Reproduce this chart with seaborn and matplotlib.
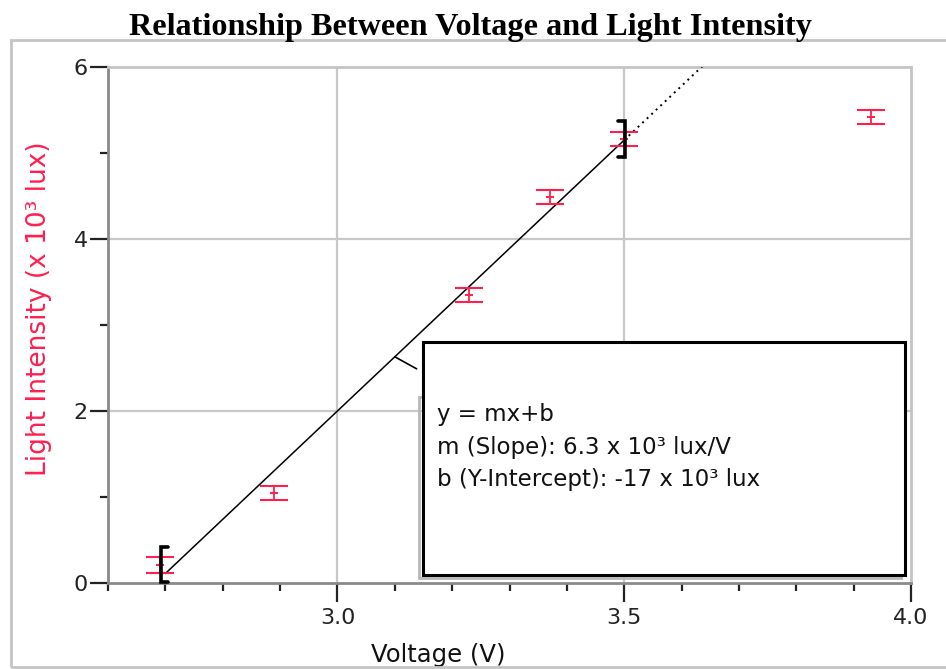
import matplotlib
matplotlib.use("Agg")
import matplotlib.pyplot as plt
import seaborn as sns
import numpy as np
import pandas as pd
from matplotlib.patches import Rectangle
from matplotlib.ticker import MultipleLocator, FixedLocator

# ---- data ----
voltage = [2.69, 2.89, 3.23, 3.37, 3.50, 3.93]
intensity = [0.21, 1.05, 3.35, 4.49, 5.16, 5.42]
uncertainty = [0.09, 0.08, 0.08, 0.08, 0.08, 0.08]

fit_slope = 6.3
fit_intercept = -16.9
fit_range = [2.7, 3.5]

x_major = [3.0, 3.5, 4.0]
x_major_labels = ["3.0", "3.5", "4.0"]
y_major = [0, 2, 4, 6]
y_major_labels = ["0", "2", "4", "6"]

title = "Relationship Between Voltage and Light Intensity"
xlabel = "Voltage (V)"
ylabel = "Light Intensity (x 10³ lux)"
box_lines = ["y = mx+b",
             "m (Slope): 6.3 x 10³ lux/V",
             "b (Y-Intercept): -17 x 10³ lux"]

RED = "#ff1f4f"

sns.set_theme(style="white")
plt.rcParams['font.family'] = ['DejaVu Sans']

fig = plt.figure(figsize=(9.46, 6.69), dpi=100)
ax = fig.add_axes([0.1142, 0.1286, 0.8488, 0.7713])

# outer window frame
fig.patches.append(Rectangle((0.0116, 0.003), 1.0, 0.937, transform=fig.transFigure,
                             fill=False, edgecolor="#c4c4c4", linewidth=2, zorder=0))

ax.set_xlim(2.6, 4.0)
ax.set_ylim(0, 6)

# grid
for gx in [3.0, 3.5]:
    ax.axvline(gx, color="#c8c8c8", lw=1.6, zorder=0)
for gy in [2, 4]:
    ax.axhline(gy, color="#c8c8c8", lw=1.6, zorder=0)

# fit line: solid within fit range, dotted extrapolation
df_fit = pd.DataFrame({"x": fit_range,
                       "y": [fit_slope * v + fit_intercept for v in fit_range]})
sns.lineplot(data=df_fit, x="x", y="y", color="black", lw=1.1, ax=ax, zorder=3)
ext_x = [fit_range[1], 4.0]
df_ext = pd.DataFrame({"x": ext_x, "y": [fit_slope * v + fit_intercept for v in ext_x]})
sns.lineplot(data=df_ext, x="x", y="y", color="black", lw=1.4, ls=(0, (1, 2.2)), ax=ax, zorder=3)

# data with error bars
ax.errorbar(voltage, intensity, yerr=uncertainty, fmt='none', ecolor=RED,
            elinewidth=1.3, capsize=10, capthick=1.5, zorder=4)
df_pts = pd.DataFrame({"v": voltage, "i": intensity})
sns.scatterplot(data=df_pts, x="v", y="i", marker="_", s=30, color=RED,
                linewidth=1.4, ax=ax, zorder=5)

# fit range brackets
y_lo = fit_slope * fit_range[0] + fit_intercept
y_hi = fit_slope * fit_range[1] + fit_intercept
bx = fit_range[0] - 0.007
ax.plot([bx + 0.012, bx, bx, bx + 0.012], [y_lo + 0.31, y_lo + 0.31, y_lo - 0.10, y_lo - 0.10],
        color="black", lw=2.6, solid_joinstyle="miter", zorder=6, clip_on=False)
bx2 = fit_range[1] + 0.002
ax.plot([bx2 - 0.012, bx2, bx2, bx2 - 0.012], [y_hi + 0.22, y_hi + 0.22, y_hi - 0.20, y_hi - 0.20],
        color="black", lw=2.6, solid_joinstyle="miter", zorder=6)

# annotation box
ax.add_patch(Rectangle((0.387, 0.010), 0.600, 0.35, transform=ax.transAxes,
                       facecolor="none", edgecolor="#b8b8b8", lw=2, zorder=6))
ax.add_patch(Rectangle((0.392, 0.0155), 0.6005, 0.4515, transform=ax.transAxes,
                       facecolor="white", edgecolor="black", lw=2.2, zorder=7))
for i, line in enumerate(box_lines):
    ax.text(0.410, 0.326 - i * 0.063, line, transform=ax.transAxes, fontsize=16.5,
            ha="left", va="center", color="#111111", zorder=8)
# leader line from box to fit line
lx = 3.1
ax.annotate("", xy=(lx, fit_slope * lx + fit_intercept), xytext=(3.138, 2.49),
            arrowprops=dict(arrowstyle="-", color="black", lw=1.2, shrinkA=0, shrinkB=0),
            zorder=8)

# spines
for s in ["left", "bottom"]:
    ax.spines[s].set_color("#8a8a8a")
    ax.spines[s].set_linewidth(2)
for s in ["top", "right"]:
    ax.spines[s].set_color("#c4c4c4")
    ax.spines[s].set_linewidth(2)

# ticks
ax.xaxis.set_major_locator(FixedLocator(x_major))
ax.set_xticklabels(x_major_labels)
ax.xaxis.set_minor_locator(MultipleLocator(0.1))
ax.yaxis.set_major_locator(FixedLocator(y_major))
ax.set_yticklabels(y_major_labels)
ax.yaxis.set_minor_locator(MultipleLocator(1))
ax.tick_params(axis="x", which="major", direction="out", length=14, width=1.6,
               color="#222222", labelsize=16, pad=4, labelcolor="#222222")
ax.tick_params(axis="x", which="minor", direction="out", length=6, width=1.6, color="#222222")
ax.tick_params(axis="y", which="major", direction="out", length=13, width=1.6,
               color="#222222", labelsize=16, pad=1.5, labelcolor="#222222")
ax.tick_params(axis="y", which="minor", direction="out", length=6, width=1.6, color="#222222")
ax.tick_params(bottom=True, left=True, which="both")

ax.set_xlabel(xlabel, fontsize=17.5, color="#111111")
ax.xaxis.set_label_coords(0.411, -0.116)
ax.xaxis.label.set_va("top")
ax.set_ylabel(ylabel, fontsize=19, color=RED)
ax.yaxis.set_label_coords(-0.070, 0.531)

fig.text(0.497, 1 - 28 / 669, title, ha="center", va="center", fontsize=23.2,
         fontweight="bold", family="Liberation Serif", color="black")

fig.savefig("out.png", dpi=100)
